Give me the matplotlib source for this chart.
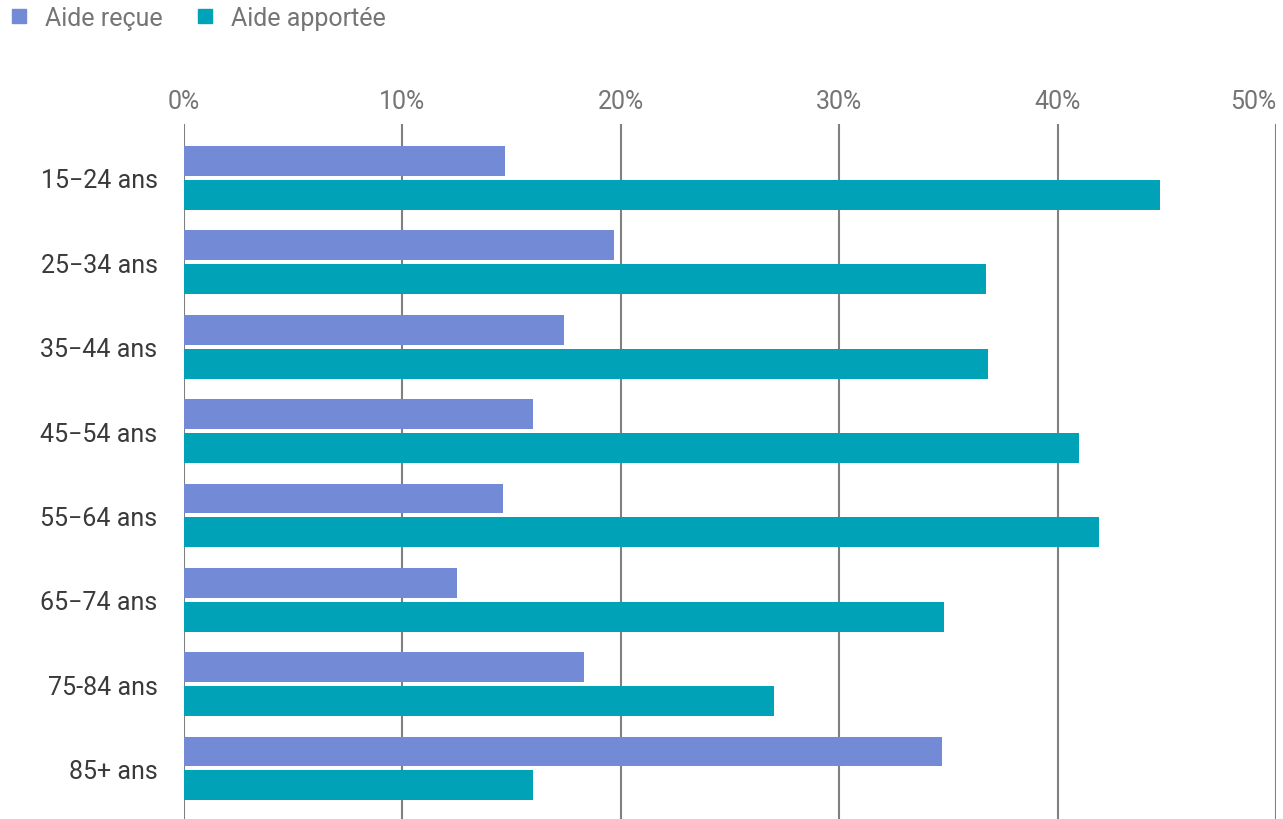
import numpy as np
import matplotlib.pyplot as plt
from matplotlib.lines import Line2D

plt.rcParams['font.family'] = ['Roboto', 'DejaVu Sans']

# data
groupes = ['15\u221224 ans', '25\u221234 ans', '35\u221244 ans', '45\u221254 ans',
           '55\u221264 ans', '65\u221274 ans', '75-84 ans', '85+ ans']
aide_recue = [14.7, 19.7, 17.4, 16.0, 14.6, 12.5, 18.3, 34.7]
aide_apportee = [44.7, 36.7, 36.8, 41.0, 41.9, 34.8, 27.0, 16.0]
series = ['Aide reçue', 'Aide apportée']
couleurs = ['#738ad6', '#00a2b8']
xticks = [0, 10, 20, 30, 40, 50]

fig = plt.figure(figsize=(12.83, 8.2), dpi=100)
ax = fig.add_axes([184 / 1283, 0.0, (1276 - 184) / 1283, 1 - 125 / 820])

y = np.arange(len(groupes))
h = 0.355
ax.barh(y - 0.2, aide_recue, height=h, color=couleurs[0], zorder=3)
ax.barh(y + 0.2, aide_apportee, height=h, color=couleurs[1], zorder=3)

ax.set_xlim(0, 50)
ax.set_ylim(7.6, -0.64)
ax.set_xticks(xticks)
ax.set_xticklabels(['{}%'.format(t) for t in xticks])
ax.xaxis.tick_top()
ax.tick_params(axis='x', length=0, pad=8, labelsize=18, labelcolor='#757575')
ax.get_xticklabels()[-1].set_ha('right')
ax.set_yticks(y)
ax.set_yticklabels(groupes)
ax.tick_params(axis='y', length=0, pad=19, labelsize=18, labelcolor='#3a3a3a')
ax.grid(axis='x', color='#808080', linewidth=1.5, zorder=0)
for s in ax.spines.values():
    s.set_visible(False)

handles = [Line2D([], [], marker='s', linestyle='', markersize=10,
                  color=c) for c in couleurs]
fig.legend(handles, series, loc='upper left',
           bbox_to_anchor=(6.5 / 1283, 1 - 7 / 820),
           ncol=2, frameon=False, fontsize=18, labelcolor='#757575',
           borderpad=0, borderaxespad=0,
           handletextpad=0.54, columnspacing=1.2, handlelength=1.0)

fig.savefig('out.png', dpi=100)
